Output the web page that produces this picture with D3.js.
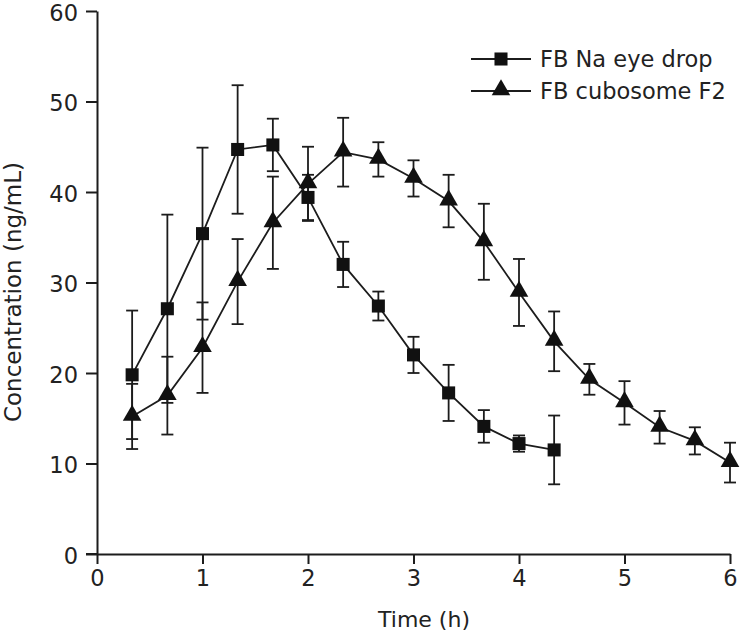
<!DOCTYPE html>
<html>
<head>
<meta charset="utf-8">
<script src="https://cdn.jsdelivr.net/npm/d3@7"></script>
<style>
  html, body { margin: 0; padding: 0; background: #fff; }
  svg { display: block; }
  text { font-family: "DejaVu Sans", "Liberation Sans", Arial, sans-serif; fill: #222; }
</style>
</head>
<body>
<div id="chart"></div>
<script>
// time points (h)
const timesA = [0.333, 0.667, 1, 1.333, 1.667, 2, 2.333, 2.667, 3, 3.333, 3.667, 4, 4.333];
const meanA  = [19.8, 27.1, 35.4, 44.7, 45.2, 39.4, 32.0, 27.4, 22.0, 17.8, 14.1, 12.2, 11.5];
const sdA    = [7.1, 10.4, 9.5, 7.1, 2.9, 2.5, 2.5, 1.6, 2.0, 3.1, 1.8, 0.9, 3.8];

const timesB = [0.333, 0.667, 1, 1.333, 1.667, 2, 2.333, 2.667, 3, 3.333, 3.667, 4, 4.333, 4.667, 5, 5.333, 5.667, 6];
const meanB  = [15.2, 17.5, 22.8, 30.1, 36.6, 40.9, 44.4, 43.6, 41.5, 39.0, 34.5, 28.9, 23.5, 19.3, 16.7, 14.0, 12.5, 10.1];
const sdB    = [3.6, 4.3, 5.0, 4.7, 5.1, 4.1, 3.8, 1.9, 2.0, 2.9, 4.2, 3.7, 3.3, 1.7, 2.4, 1.8, 1.5, 2.2];

const seriesNames = ["FB Na eye drop", "FB cubosome F2"];
const xTicks = [0, 1, 2, 3, 4, 5, 6];
const yTicks = [0, 10, 20, 30, 40, 50, 60];

const width = 740, height = 637;
const margin = { left: 97, right: 10, top: 11, bottom: 83 };
const ink = "#1c1c1c";
const fontFam = "DejaVu Sans, Liberation Sans, Arial, sans-serif";

const svg = d3.select("#chart").append("svg")
    .attr("width", width)
    .attr("height", height);

const x = d3.scaleLinear().domain([0, 6]).range([margin.left, 730]);
const y = d3.scaleLinear().domain([0, 60]).range([height - margin.bottom, margin.top]);

// axes
const xAxis = svg.append("g")
    .attr("transform", `translate(0,${y(0)})`)
    .call(d3.axisBottom(x).tickValues(xTicks).tickFormat(d3.format("d"))
        .tickSize(10).tickPadding(6).tickSizeOuter(0));
const yAxis = svg.append("g")
    .attr("transform", `translate(${x(0)},0)`)
    .call(d3.axisLeft(y).tickValues(yTicks).tickFormat(d3.format("d"))
        .tickSize(11).tickPadding(8).tickSizeOuter(0));

[xAxis, yAxis].forEach(ax => {
    ax.select(".domain").attr("stroke", ink).attr("stroke-width", 2);
    ax.selectAll(".tick line").attr("stroke", ink).attr("stroke-width", 2);
    ax.selectAll(".tick text")
        .attr("fill", "#222")
        .style("font-size", "22.5px")
        .style("font-family", fontFam);
});
// y labels sit a touch below their ticks
yAxis.selectAll(".tick text").attr("dy", "0.42em");

// extend x-axis line to meet the 0 tick on the left
svg.append("line")
    .attr("x1", x(0) - 11).attr("x2", x(0))
    .attr("y1", y(0)).attr("y2", y(0))
    .attr("stroke", ink).attr("stroke-width", 2);

// axis titles
svg.append("text")
    .attr("x", 424)
    .attr("y", 627)
    .attr("text-anchor", "middle")
    .style("font-size", "22px")
    .text("Time (h)");

svg.append("text")
    .attr("transform", `translate(21,292) rotate(-90)`)
    .attr("text-anchor", "middle")
    .style("font-size", "23px")
    .text("Concentration (ng/mL)");

const dataA = timesA.map((t, i) => ({ t, m: meanA[i], sd: sdA[i] }));
const dataB = timesB.map((t, i) => ({ t, m: meanB[i], sd: sdB[i] }));

const line = d3.line().x(d => x(d.t)).y(d => y(d.m));
const capW = 6;

function drawErrors(data) {
    const g = svg.append("g").attr("stroke", ink).attr("stroke-width", 1.8).attr("fill", "none");
    data.forEach(d => {
        g.append("line")
            .attr("x1", x(d.t)).attr("x2", x(d.t))
            .attr("y1", y(d.m - d.sd)).attr("y2", y(d.m + d.sd));
        [d.m - d.sd, d.m + d.sd].forEach(v => {
            g.append("line")
                .attr("x1", x(d.t) - capW).attr("x2", x(d.t) + capW)
                .attr("y1", y(v)).attr("y2", y(v));
        });
    });
}

drawErrors(dataA);
drawErrors(dataB);

svg.append("path").datum(dataA).attr("d", line)
    .attr("fill", "none").attr("stroke", ink).attr("stroke-width", 1.8);
svg.append("path").datum(dataB).attr("d", line)
    .attr("fill", "none").attr("stroke", ink).attr("stroke-width", 1.8);

const squareSym = d3.symbol().type(d3.symbolSquare).size(170);
const triSym = d3.symbol().type(d3.symbolTriangle).size(150);

svg.append("g").selectAll("path")
    .data(dataA)
    .join("path")
    .attr("d", squareSym)
    .attr("transform", d => `translate(${x(d.t)},${y(d.m)})`)
    .attr("fill", "#111");

svg.append("g").selectAll("path")
    .data(dataB)
    .join("path")
    .attr("d", triSym)
    .attr("transform", d => `translate(${x(d.t)},${y(d.m) - 1})`)
    .attr("fill", "#111");

// legend
const legend = svg.append("g");
const legendRows = [
    { name: seriesNames[0], sym: squareSym, yPos: 59 },
    { name: seriesNames[1], sym: triSym, yPos: 91 }
];
legendRows.forEach(r => {
    legend.append("line")
        .attr("x1", 471).attr("x2", 531)
        .attr("y1", r.yPos).attr("y2", r.yPos)
        .attr("stroke", ink).attr("stroke-width", 1.8);
    legend.append("path")
        .attr("d", r.sym)
        .attr("transform", `translate(501,${r.yPos - (r.sym === triSym ? 1 : 0)})`)
        .attr("fill", "#111");
    legend.append("text")
        .attr("x", 540)
        .attr("y", r.yPos + 8)
        .style("font-size", "22.5px")
        .text(r.name);
});
</script>
</body>
</html>
